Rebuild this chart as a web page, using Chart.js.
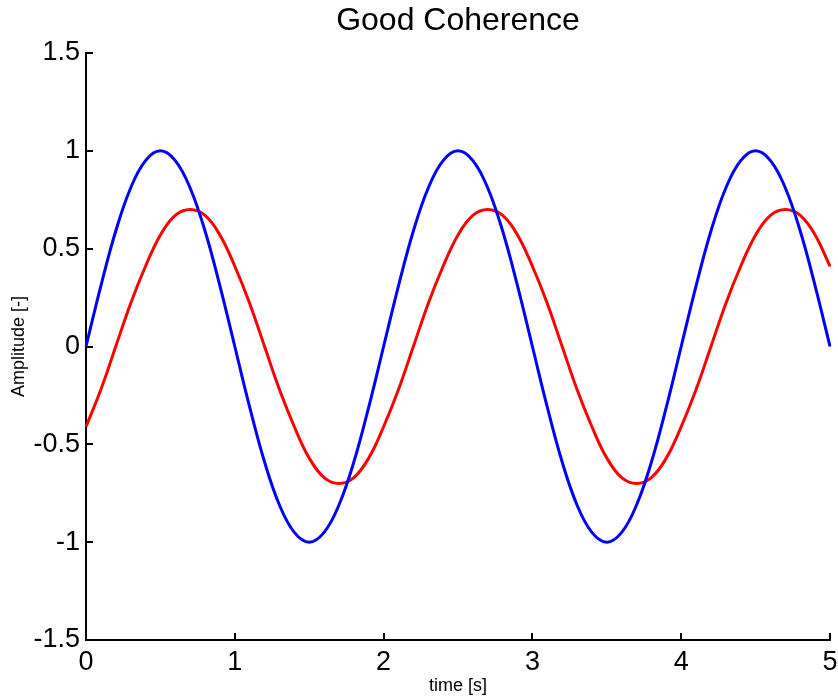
<!DOCTYPE html>
<html>
<head>
<meta charset="utf-8">
<script src="https://cdn.jsdelivr.net/npm/chart.js@4.4.0/dist/chart.umd.min.js"></script>
<style>
  html, body { margin: 0; padding: 0; background: #fff; }
  #wrap { width: 838px; height: 697px; position: relative; }
</style>
</head>
<body>
<div id="wrap"><canvas id="coherence"></canvas></div>
<script>
// time axis (s), sampled every 0.1 s
const times = [
  0, 0.1, 0.2, 0.3, 0.4, 0.5, 0.6, 0.7, 0.8, 0.9, 1,
  1.1, 1.2, 1.3, 1.4, 1.5, 1.6, 1.7, 1.8, 1.9, 2,
  2.1, 2.2, 2.3, 2.4, 2.5, 2.6, 2.7, 2.8, 2.9, 3,
  3.1, 3.2, 3.3, 3.4, 3.5, 3.6, 3.7, 3.8, 3.9, 4,
  4.1, 4.2, 4.3, 4.4, 4.5, 4.6, 4.7, 4.8, 4.9, 5
];
const blueSignal = [
  0, 0.31, 0.59, 0.81, 0.95, 1, 0.95, 0.81, 0.59, 0.31, 0,
  -0.31, -0.59, -0.81, -0.95, -1, -0.95, -0.81, -0.59, -0.31, 0,
  0.31, 0.59, 0.81, 0.95, 1, 0.95, 0.81, 0.59, 0.31, 0,
  -0.31, -0.59, -0.81, -0.95, -1, -0.95, -0.81, -0.59, -0.31, 0,
  0.31, 0.59, 0.81, 0.95, 1, 0.95, 0.81, 0.59, 0.31, 0
];
const redSignal = [
  -0.41, -0.22, 0, 0.22, 0.41, 0.57, 0.67, 0.7, 0.67, 0.57, 0.41,
  0.22, 0, -0.22, -0.41, -0.57, -0.67, -0.7, -0.67, -0.57, -0.41,
  -0.22, 0, 0.22, 0.41, 0.57, 0.67, 0.7, 0.67, 0.57, 0.41,
  0.22, 0, -0.22, -0.41, -0.57, -0.67, -0.7, -0.67, -0.57, -0.41,
  -0.22, 0, 0.22, 0.41, 0.57, 0.67, 0.7, 0.67, 0.57, 0.41
];
const xTicks = [0, 1, 2, 3, 4, 5];
const yTicks = [-1.5, -1, -0.5, 0, 0.5, 1, 1.5];

const FONT = "Arial, 'Liberation Sans', sans-serif";

function toPoints(ys) {
  return times.map(function (t, i) { return { x: t, y: ys[i] }; });
}

// matlab style ticks pointing into the plot
const innerTicks = {
  id: "innerTicks",
  afterDraw: function (chart) {
    const ctx = chart.ctx;
    const x = chart.scales.x;
    const y = chart.scales.y;
    const len = 7;
    ctx.save();
    ctx.strokeStyle = "#000";
    ctx.lineWidth = 2;
    ctx.beginPath();
    xTicks.forEach(function (v) {
      const px = Math.round(x.getPixelForValue(v));
      ctx.moveTo(px, y.bottom);
      ctx.lineTo(px, y.bottom - len);
    });
    yTicks.forEach(function (v) {
      const py = Math.round(y.getPixelForValue(v));
      ctx.moveTo(x.left, py);
      ctx.lineTo(x.left + len, py);
    });
    ctx.stroke();
    ctx.restore();
  }
};

new Chart(document.getElementById("coherence"), {
  type: "line",
  data: {
    datasets: [
      {
        label: "signal 1",
        data: toPoints(blueSignal),
        borderColor: "#0000ff",
        borderWidth: 3,
        pointRadius: 0,
        tension: 0.4,
        fill: false
      },
      {
        label: "signal 2",
        data: toPoints(redSignal),
        borderColor: "#ff0000",
        borderWidth: 3,
        pointRadius: 0,
        tension: 0.4,
        fill: false
      }
    ]
  },
  options: {
    responsive: true,
    maintainAspectRatio: false,
    animation: false,
    layout: { padding: 0 },
    plugins: {
      legend: { display: false },
      tooltip: { enabled: false },
      title: { display: false }
    },
    scales: {
      // empty top axis, only used to hold the title centred over the plot
      top: {
        type: "linear",
        position: "top",
        afterFit: function (scale) {
          scale.height = 53;
          scale.paddingLeft = 0;
          scale.paddingRight = 0;
        },
        grid: { display: false },
        border: { display: false },
        ticks: { display: false },
        title: {
          display: true,
          text: "Good Coherence",
          color: "#000",
          font: { family: FONT, size: 32 },
          padding: { top: 2, bottom: 0 }
        }
      },
      x: {
        type: "linear",
        min: 0,
        max: 5,
        afterBuildTicks: function (scale) {
          scale.ticks = xTicks.map(function (v) { return { value: v }; });
        },
        afterFit: function (scale) {
          scale.height = 57;
          scale.paddingLeft = 0;
          scale.paddingRight = 8;
        },
        grid: { display: true, drawOnChartArea: false, drawTicks: false },
        border: { display: true, color: "#000", width: 2 },
        ticks: {
          color: "#000",
          padding: 6,
          maxRotation: 0,
          font: { family: FONT, size: 27 },
          callback: function (v) { return String(v); }
        },
        title: {
          display: true,
          text: "time [s]",
          color: "#000",
          font: { family: FONT, size: 18 },
          padding: { top: 0, bottom: 0 }
        }
      },
      y: {
        type: "linear",
        min: -1.5,
        max: 1.5,
        afterBuildTicks: function (scale) {
          scale.ticks = yTicks.map(function (v) { return { value: v }; });
        },
        afterFit: function (scale) { scale.width = 86; },
        grid: { display: true, drawOnChartArea: false, drawTicks: false },
        border: { display: true, color: "#000", width: 2 },
        ticks: {
          color: "#000",
          padding: 6,
          font: { family: FONT, size: 27 },
          callback: function (v) { return String(v); }
        },
        title: {
          display: true,
          text: "Amplitude [-]",
          color: "#000",
          font: { family: FONT, size: 18 },
          padding: { top: 8, bottom: 0 }
        }
      }
    }
  },
  plugins: [innerTicks]
});
</script>
</body>
</html>
